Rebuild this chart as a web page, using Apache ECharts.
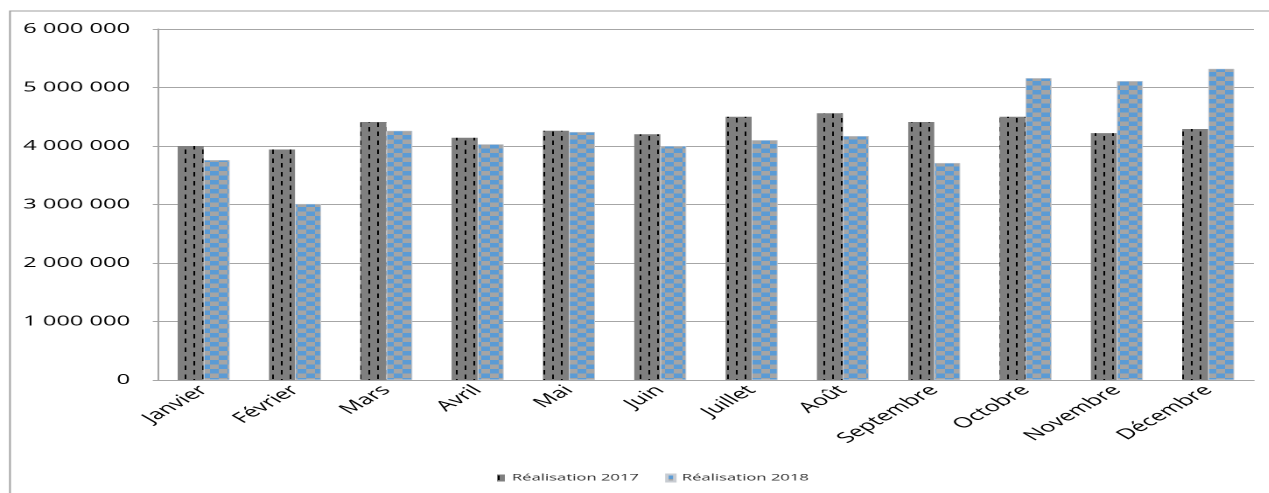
<!DOCTYPE html>
<html>
<head>
<meta charset="utf-8">
<script src="https://cdn.jsdelivr.net/npm/echarts@6/dist/echarts.min.js"></script>
<style>
  html, body { margin: 0; padding: 0; background: #fff; overflow: hidden; }
  /* the chart is laid out narrow and widened horizontally */
  #wrap { width: 1269px; height: 493px; overflow: hidden; }
  #chart { width: 725px; height: 493px; transform: scaleX(1.75); transform-origin: 0 0; }
</style>
</head>
<body>
<div id="wrap"><div id="chart"></div></div>
<script>
const months = ['Janvier', 'Février', 'Mars', 'Avril', 'Mai', 'Juin', 'Juillet', 'Août', 'Septembre', 'Octobre', 'Novembre', 'Décembre'];
const real2017 = [4000000, 3940000, 4410000, 4140000, 4260000, 4200000, 4500000, 4560000, 4410000, 4500000, 4220000, 4290000];
const real2018 = [3760000, 3010000, 4260000, 4030000, 4240000, 4000000, 4100000, 4170000, 3710000, 5160000, 5110000, 5320000];
const seriesNames = ['Réalisation 2017', 'Réalisation 2018'];

// gray fill with staggered short black dashes
function dashTile() {
  const c = document.createElement('canvas');
  c.width = 20; c.height = 18;
  const g = c.getContext('2d');
  g.fillStyle = '#7f7f7f';
  g.fillRect(0, 0, 20, 18);
  g.fillStyle = '#000';
  g.fillRect(1, 2, 2, 9);
  g.fillRect(11, 11, 2, 7);
  g.fillRect(11, 0, 2, 2);
  return c;
}

// blue / gray checkerboard
function checkTile() {
  const c = document.createElement('canvas');
  c.width = 20; c.height = 18;
  const g = c.getContext('2d');
  g.fillStyle = '#a5a5a5';
  g.fillRect(0, 0, 20, 18);
  g.fillStyle = '#5b9bd5';
  g.fillRect(0, 0, 10, 9);
  g.fillRect(10, 9, 10, 9);
  return c;
}

const fill2017 = { image: dashTile(), repeat: 'repeat', scaleX: 0.5, scaleY: 0.5 };
const fill2018 = { image: checkTile(), repeat: 'repeat', scaleX: 0.5, scaleY: 0.5 };

const fmt = v => String(v).replace(/\B(?=(\d{3})+(?!\d))/g, ' ');

const chart = echarts.init(document.getElementById('chart'), null, { renderer: 'canvas', devicePixelRatio: 2 });
chart.setOption({
  animation: false,
  backgroundColor: '#fff',
  textStyle: { fontFamily: 'Open Sans' },
  graphic: [{
    type: 'rect',
    shape: { x: 5.7, y: 11, width: 740, height: 500 },
    style: { fill: 'none', stroke: '#a0a0a0', lineWidth: 1 },
    silent: true
  }],
  grid: { left: 90.3, right: 8.5, top: 29, bottom: 113, containLabel: false },
  legend: {
    bottom: 5,
    left: 279,
    itemWidth: 4.5,
    itemHeight: 7,
    itemGap: 15,
    icon: 'rect',
    textStyle: { fontSize: 9.5, color: '#303030', fontFamily: 'Open Sans', padding: [0, 0, 0, -1] },
    data: seriesNames
  },
  xAxis: {
    type: 'category',
    data: months,
    axisLine: { show: true, lineStyle: { color: '#a6a6a6', width: 1 } },
    axisTick: { show: false },
    axisLabel: { rotate: 45, margin: 8, fontSize: 14.5, color: '#000', fontFamily: 'Open Sans', interval: 0 }
  },
  yAxis: {
    type: 'value',
    min: 0,
    max: 6000000,
    interval: 1000000,
    axisLine: { show: true, lineStyle: { color: '#a6a6a6', width: 1 } },
    axisTick: { show: true, length: 3, lineStyle: { color: '#a6a6a6' } },
    splitLine: { show: true, lineStyle: { color: '#a6a6a6', width: 1 } },
    axisLabel: { margin: 16, fontSize: 13.5, color: '#000', fontFamily: 'Open Sans', formatter: fmt }
  },
  series: [
    {
      name: seriesNames[0],
      type: 'bar',
      data: real2017,
      barWidth: '28.5%',
      barGap: '0%',
      itemStyle: { color: fill2017 }
    },
    {
      name: seriesNames[1],
      type: 'bar',
      data: real2018,
      barWidth: '28.5%',
      itemStyle: { color: fill2018, borderColor: '#c8ccd2', borderWidth: 0.5 }
    }
  ]
});
</script>
</body>
</html>
